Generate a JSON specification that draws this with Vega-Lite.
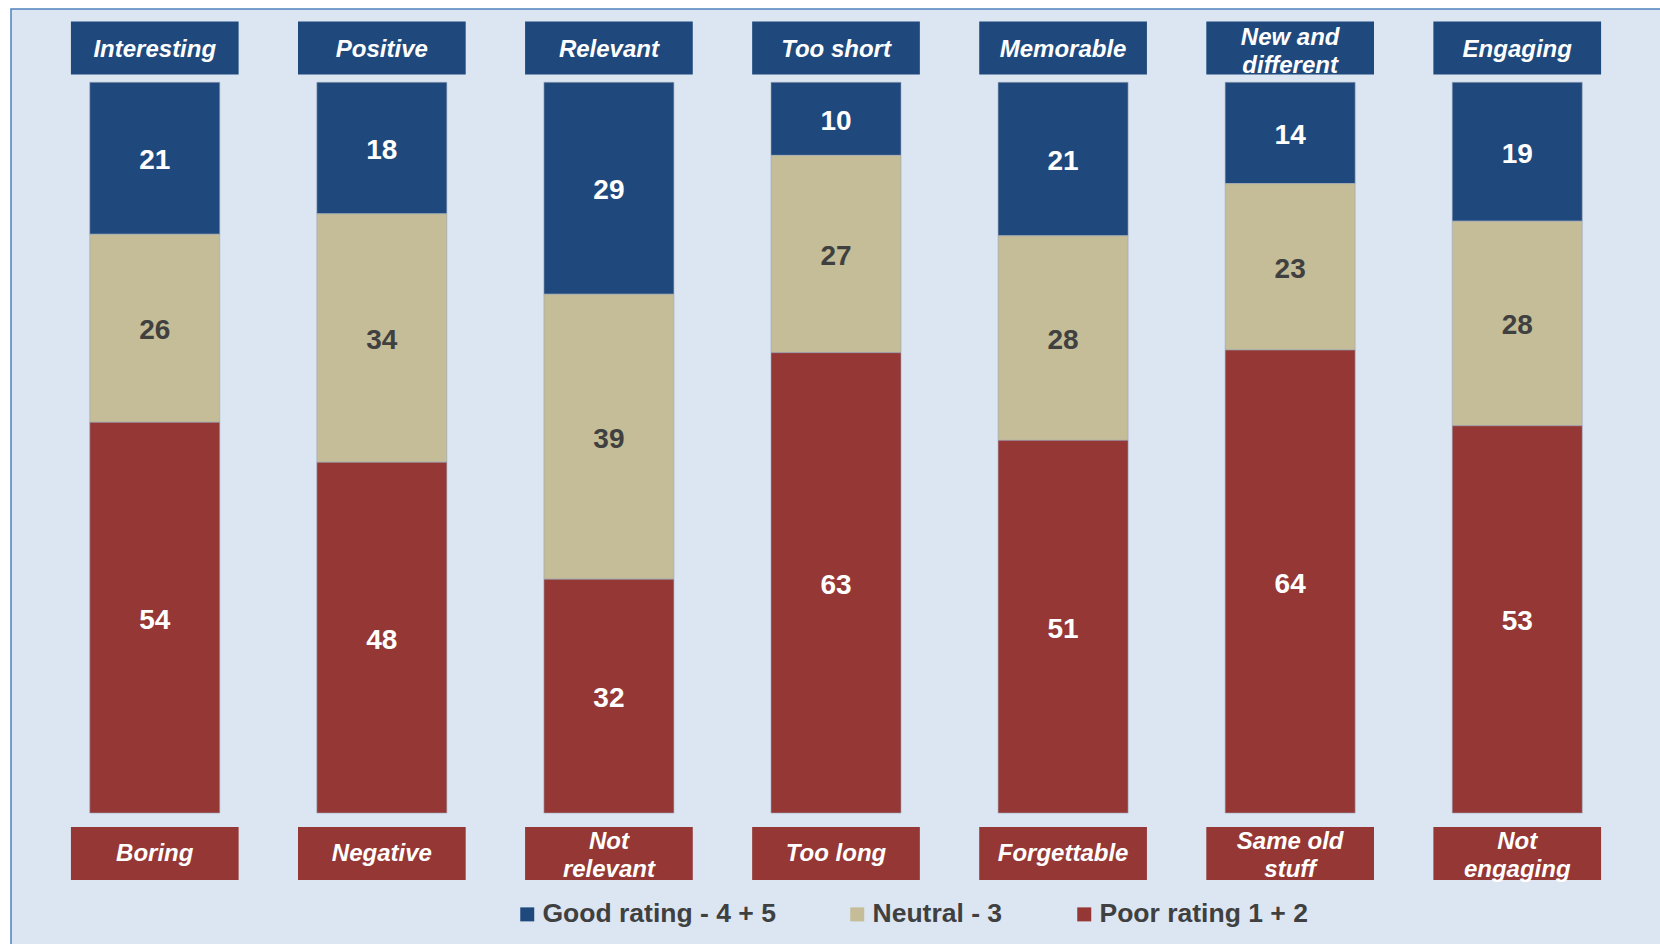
{
  "$schema": "https://vega.github.io/schema/vega-lite/v6.json",
  "width": 1650,
  "height": 936,
  "autosize": {"type": "none"},
  "padding": {"left": 11, "top": 9, "right": 0, "bottom": 0},
  "background": "white",
  "config": {
    "view": {"fill": "#DCE6F2", "stroke": "#4F81BD", "strokeWidth": 1.5},
    "font": "Liberation Sans"
  },
  "datasets": {
    "ratings": [
      {"cat": "Interesting", "rating": "Good rating - 4 + 5", "value": 21, "ord": 3},
      {"cat": "Interesting", "rating": "Neutral - 3", "value": 26, "ord": 2},
      {"cat": "Interesting", "rating": "Poor rating 1 + 2", "value": 54, "ord": 1},
      {"cat": "Positive", "rating": "Good rating - 4 + 5", "value": 18, "ord": 3},
      {"cat": "Positive", "rating": "Neutral - 3", "value": 34, "ord": 2},
      {"cat": "Positive", "rating": "Poor rating 1 + 2", "value": 48, "ord": 1},
      {"cat": "Relevant", "rating": "Good rating - 4 + 5", "value": 29, "ord": 3},
      {"cat": "Relevant", "rating": "Neutral - 3", "value": 39, "ord": 2},
      {"cat": "Relevant", "rating": "Poor rating 1 + 2", "value": 32, "ord": 1},
      {"cat": "Too short", "rating": "Good rating - 4 + 5", "value": 10, "ord": 3},
      {"cat": "Too short", "rating": "Neutral - 3", "value": 27, "ord": 2},
      {"cat": "Too short", "rating": "Poor rating 1 + 2", "value": 63, "ord": 1},
      {"cat": "Memorable", "rating": "Good rating - 4 + 5", "value": 21, "ord": 3},
      {"cat": "Memorable", "rating": "Neutral - 3", "value": 28, "ord": 2},
      {"cat": "Memorable", "rating": "Poor rating 1 + 2", "value": 51, "ord": 1},
      {"cat": "New and different", "rating": "Good rating - 4 + 5", "value": 14, "ord": 3},
      {"cat": "New and different", "rating": "Neutral - 3", "value": 23, "ord": 2},
      {"cat": "New and different", "rating": "Poor rating 1 + 2", "value": 64, "ord": 1},
      {"cat": "Engaging", "rating": "Good rating - 4 + 5", "value": 19, "ord": 3},
      {"cat": "Engaging", "rating": "Neutral - 3", "value": 28, "ord": 2},
      {"cat": "Engaging", "rating": "Poor rating 1 + 2", "value": 53, "ord": 1}
    ],
    "cats": [
      {"cat": "Interesting", "top": "Interesting", "bottom": "Boring"},
      {"cat": "Positive", "top": "Positive", "bottom": "Negative"},
      {"cat": "Relevant", "top": "Relevant", "bottom": "Not\nrelevant"},
      {"cat": "Too short", "top": "Too short", "bottom": "Too long"},
      {"cat": "Memorable", "top": "Memorable", "bottom": "Forgettable"},
      {"cat": "New and different", "top": "New and\ndifferent", "bottom": "Same old\nstuff"},
      {"cat": "Engaging", "top": "Engaging", "bottom": "Not\nengaging"}
    ]
  },
  "encoding": {
    "x": {
      "field": "cat",
      "type": "nominal",
      "axis": null,
      "scale": {
        "domain": ["Interesting", "Positive", "Relevant", "Too short", "Memorable", "New and different", "Engaging"],
        "paddingInner": 0.4275,
        "paddingOuter": 0.3469
      }
    }
  },
  "layer": [
    {
      "data": {"name": "ratings"},
      "mark": {"type": "bar", "stroke": "#9AA6B8", "strokeWidth": 0.6},
      "encoding": {
        "y": {
          "field": "value",
          "type": "quantitative",
          "stack": "normalize",
          "axis": null,
          "scale": {"domain": [-0.1806, 1.1003], "nice": false, "zero": false}
        },
        "color": {
          "field": "rating",
          "type": "nominal",
          "scale": {
            "domain": ["Good rating - 4 + 5", "Neutral - 3", "Poor rating 1 + 2"],
            "range": ["#1F497D", "#C4BD97", "#953735"]
          },
          "legend": {
            "orient": "none",
            "legendX": 503,
            "legendY": 892,
            "direction": "horizontal",
            "title": null,
            "symbolType": "square",
            "symbolSize": 196,
            "symbolStrokeWidth": 0,
            "symbolOpacity": 1,
            "labelFontSize": 26.5,
            "labelFont": "Liberation Sans",
            "labelFontWeight": "bold",
            "labelColor": "#404040",
            "labelOffset": 2,
            "labelLimit": 400,
            "columnPadding": 68
          }
        },
        "order": {"field": "ord", "type": "quantitative"}
      }
    },
    {
      "data": {"name": "ratings"},
      "mark": {"type": "text", "fontSize": 28, "fontWeight": "bold", "baseline": "middle", "dy": 3, "font": "Liberation Sans"},
      "encoding": {
        "y": {"field": "value", "type": "quantitative", "stack": "normalize", "bandPosition": 0.5},
        "detail": {"field": "rating"},
        "order": {"field": "ord", "type": "quantitative"},
        "text": {"field": "value", "type": "quantitative"},
        "color": {
          "condition": {"test": "datum.rating === 'Neutral - 3'", "value": "#404040"},
          "value": "#FFFFFF"
        }
      }
    },
    {
      "data": {"name": "cats"},
      "mark": {"type": "bar", "color": "#1F497D", "width": {"band": 1.29}},
      "encoding": {"y": {"datum": 1.0832}, "y2": {"datum": 1.0107}}
    },
    {
      "data": {"name": "cats"},
      "mark": {"type": "bar", "color": "#953735", "width": {"band": 1.29}},
      "encoding": {"y": {"datum": -0.0192}, "y2": {"datum": -0.0917}}
    },
    {
      "data": {"name": "cats"},
      "transform": [{"filter": "indexof(datum.top, '\\n') < 0"}],
      "mark": {"type": "text", "color": "#FFFFFF", "fontSize": 24, "fontWeight": "bold", "fontStyle": "italic", "baseline": "middle", "font": "Liberation Sans"},
      "encoding": {"y": {"datum": 1.0436}, "text": {"field": "top"}}
    },
    {
      "data": {"name": "cats"},
      "transform": [{"filter": "indexof(datum.top, '\\n') >= 0"}],
      "mark": {"type": "text", "color": "#FFFFFF", "fontSize": 24, "fontWeight": "bold", "fontStyle": "italic", "lineBreak": "\n", "lineHeight": 28.5, "baseline": "middle", "font": "Liberation Sans"},
      "encoding": {"y": {"datum": 1.0610}, "text": {"field": "top"}}
    },
    {
      "data": {"name": "cats"},
      "transform": [{"filter": "indexof(datum.bottom, '\\n') < 0"}],
      "mark": {"type": "text", "color": "#FFFFFF", "fontSize": 24, "fontWeight": "bold", "fontStyle": "italic", "baseline": "middle", "font": "Liberation Sans"},
      "encoding": {"y": {"datum": -0.0554}, "text": {"field": "bottom"}}
    },
    {
      "data": {"name": "cats"},
      "transform": [{"filter": "indexof(datum.bottom, '\\n') >= 0"}],
      "mark": {"type": "text", "color": "#FFFFFF", "fontSize": 24, "fontWeight": "bold", "fontStyle": "italic", "lineBreak": "\n", "lineHeight": 28, "baseline": "middle", "font": "Liberation Sans"},
      "encoding": {"y": {"datum": -0.0397}, "text": {"field": "bottom"}}
    }
  ]
}
